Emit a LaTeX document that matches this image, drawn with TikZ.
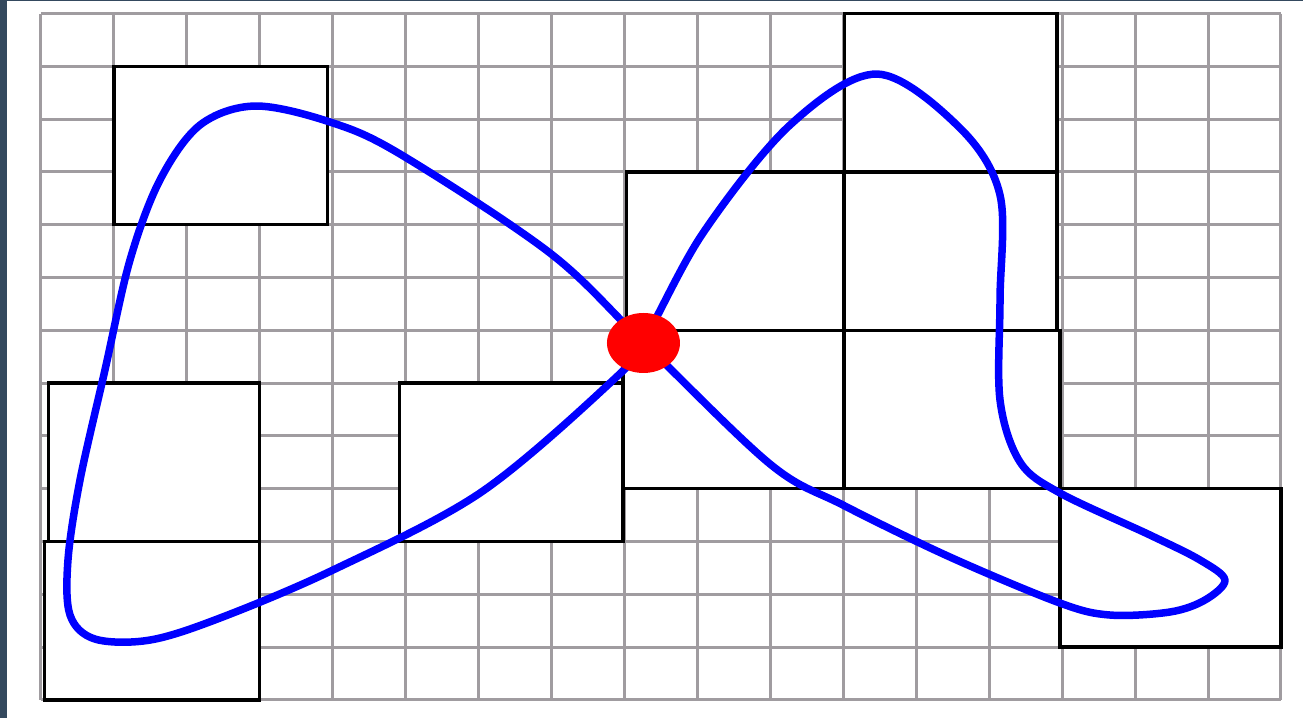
\documentclass[tikz,border=0pt]{standalone}
\usepackage{tikz}
\definecolor{bordo}{RGB}{52,73,94}
\definecolor{grigio}{RGB}{160,156,160}
\begin{document}
\begin{tikzpicture}[x=1.4588cm, y=1.056cm,
  gridln/.style={grigio, line width=0.06cm},
  blockbox/.style={fill=white, draw=black, line width=0.065cm},
  loopline/.style={blue, line width=0.15cm, line join=round}]

%% ---- Cornice (x=[-0.562,17.302], y=[0.256,-13.343]) ----
\useasboundingbox (-0.562,0.256) rectangle (17.302,-13.343);
\fill[white] (-0.562,0.256) rectangle (17.302,-13.343);
\fill[bordo] (-0.562,0.256) rectangle (-0.466,-13.343);
\fill[bordo] (-0.562,0.256) rectangle (17.302,0.237);

%% ---- Griglia 17 x 13 ----
\foreach \c in {0,...,17} \draw[gridln] (\c,0)--(\c,-13);
\foreach \r in {0,...,13} \draw[gridln] (0,-\r)--(17,-\r);

%% ---- Blocchi ----
\draw[blockbox] (1,-1)        rectangle (3.93,-4);
\draw[blockbox] (0.1,-7)      rectangle (3,-10);
\draw[blockbox] (0.05,-10)    rectangle (3,-13);
\draw[blockbox] (4.92,-7)     rectangle (7.98,-10);
\draw[blockbox] (8.03,-3)     rectangle (11,-6);
\draw[blockbox] (7.98,-6)     rectangle (11,-9);
\draw[blockbox] (11.02,0)     rectangle (13.93,-3);
\draw[blockbox] (11.02,-3)    rectangle (13.93,-6);
\draw[blockbox] (11.02,-6)    rectangle (13.97,-9);
\draw[blockbox] (13.97,-9)    rectangle (17,-12);

%% ---- Percorso chiuso (passa due volte per il punto rosso) ----
\draw[loopline] plot[smooth cycle, tension=0.55] coordinates {
  (8.253,-6.222)
  (6.978,-4.536) (4.922,-2.661) (3.962,-2.055) (2.934,-1.752)
  (2.180,-2.112) (1.631,-3.153) (1.220,-4.669) (0.877,-6.752)
  (0.535,-8.835) (0.370,-10.350) (0.398,-11.392) (0.740,-11.847)
  (1.494,-11.866) (2.454,-11.449) (4.003,-10.540) (6.019,-9.081)
  (7.801,-6.998)
  (8.253,-6.222)
  (9.076,-4.157) (10.269,-2.112) (11.462,-1.146) (12.599,-2.169)
  (13.148,-3.438) (13.148,-5.426) (13.148,-7.320) (13.422,-8.494)
  (13.970,-9.081) (15.204,-9.877) (15.890,-10.350) (16.232,-10.729)
  (15.958,-11.108) (15.478,-11.335) (14.656,-11.392) (13.970,-11.165)
  (12.462,-10.294) (10.995,-9.309) (9.995,-8.532)
};

%% ---- Punto di incrocio ----
\fill[red] (8.26,-6.24) ellipse [x radius=0.73cm, y radius=0.6cm];

\end{tikzpicture}
\end{document}
